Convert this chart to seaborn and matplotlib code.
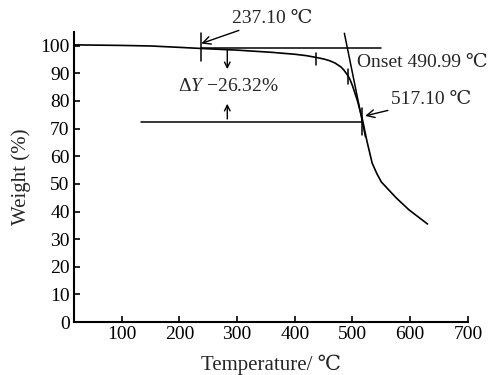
import numpy as np
import pandas as pd
import matplotlib
matplotlib.use('Agg')
import matplotlib.pyplot as plt
import seaborn as sns

# TGA curve
temperature = [17, 100, 150, 200, 237, 300, 360, 400, 420, 436, 450, 460,
               470, 480, 485, 492, 496, 500, 504, 509, 513, 517, 525, 534,
               542, 550, 576, 598, 630]
weight = [100.3, 100.1, 99.9, 99.4, 99.0, 98.4, 97.6, 96.9, 96.4, 95.8,
          95.2, 94.6, 93.7, 92.3, 91.2, 89.2, 87.6, 85.5, 83.0, 79.8, 76.6,
          73.5, 65.5, 57.6, 53.8, 50.7, 44.9, 40.6, 35.5]

x_ticks = [100, 200, 300, 400, 500, 600, 700]
y_ticks = [0, 10, 20, 30, 40, 50, 60, 70, 80, 90, 100]

# analysis markers
start_temp = 237.10
onset_temp = 490.99
inflect_temp = 517.10
upper_level = 99.3
lower_level = 72.5
delta_y = -26.32
step_marks = [237.10, 436, 492, 517.10]

df = pd.DataFrame({'Temperature': temperature, 'Weight': weight})

sns.set_style('ticks')
plt.rcParams['font.family'] = ['Liberation Serif', 'DejaVu Serif']
plt.rcParams['mathtext.fontset'] = 'custom'
plt.rcParams['mathtext.it'] = 'Liberation Serif:italic'
plt.rcParams['mathtext.rm'] = 'Liberation Serif'

fig = plt.figure(figsize=(4.92, 3.75), dpi=100)
ax = fig.add_axes([0.150, 0.141, 0.801, 0.774])

sns.lineplot(data=df, x='Temperature', y='Weight', ax=ax, color='black',
             linewidth=1.2)

# baselines
ax.plot([start_temp, 550], [upper_level, upper_level], color='black', lw=1.1)
ax.plot([133, inflect_temp], [lower_level, lower_level], color='black', lw=1.1)

# tangent through onset and inflection point
slope = (upper_level - lower_level) / (onset_temp - inflect_temp)
ty = np.array([104.5, 67.0])
tx = inflect_temp + (ty - lower_level) / slope
ax.plot(tx, ty, color='black', lw=1.1)

# small vertical marks on curve
mark_spans = [(94.6, 104.7), (93.0, 97.5), (86.0, 91.7), (67.8, 77.5)]
for t, (y0, y1) in zip(step_marks, mark_spans):
    ax.plot([t, t], [y0, y1], color='black', lw=1.1)

# delta-Y arrows
ax.annotate('', xy=(283, 90.5), xytext=(283, upper_level),
            arrowprops=dict(arrowstyle='->', color='black', lw=1.0))
ax.annotate('', xy=(283, 80.0), xytext=(283, lower_level),
            arrowprops=dict(arrowstyle='->', color='black', lw=1.0))
ax.text(285, 85.2, 'Δ$\\mathit{Y}$ \u221226.32%', ha='center', va='center',
        fontsize=14)

ax.annotate(f'{start_temp:.2f} ℃', xy=(238, 100.8), xytext=(292, 109.8),
            ha='left', va='center', fontsize=14, annotation_clip=False,
            arrowprops=dict(arrowstyle='->', color='black', lw=1.0,
                            shrinkA=0, shrinkB=0))
ax.text(508, 93.8, f'Onset {onset_temp:.2f} ℃', ha='left', va='center',
        fontsize=14)
ax.annotate(f'{inflect_temp:.2f} ℃', xy=(522, 74.6), xytext=(567, 80.4),
            ha='left', va='center', fontsize=14, annotation_clip=False,
            arrowprops=dict(arrowstyle='->', color='black', lw=1.0,
                            shrinkA=0, shrinkB=0))

ax.set_xlim(17, 700)
ax.set_ylim(0, 105)
ax.set_xticks(x_ticks)
ax.set_yticks(y_ticks)
ax.tick_params(direction='in', length=4, width=1.2, labelsize=14, pad=3,
               colors='black')
for side in ['top', 'right']:
    ax.spines[side].set_visible(False)
for side in ['left', 'bottom']:
    ax.spines[side].set_linewidth(1.5)
    ax.spines[side].set_color('black')

ax.set_xlabel('Temperature/ ℃', fontsize=15, labelpad=8)
ax.set_ylabel('Weight (%)', fontsize=15, labelpad=7)

plt.savefig('out.png', dpi=100)
